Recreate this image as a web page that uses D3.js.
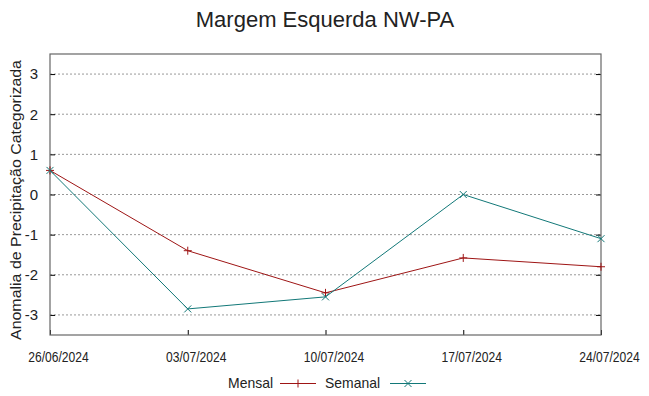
<!DOCTYPE html>
<html>
<head>
<meta charset="utf-8">
<script src="https://cdn.jsdelivr.net/npm/d3@7"></script>
<style>
  body { margin: 0; background: #fff; }
  text { font-family: "Liberation Sans", Arial, sans-serif; fill: #222; }
</style>
</head>
<body>
<script>
var width = 649,
  height = 396;

// data
var dates = ["26/06/2024", "03/07/2024", "10/07/2024", "17/07/2024", "24/07/2024"];
var mensal = [0.6, -1.4, -2.45, -1.58, -1.8];
var semanal = [0.6, -2.85, -2.55, 0.0, -1.1];
var yTicks = [-3, -2, -1, 0, 1, 2, 3];

var margin = {left: 50, right: 48, top: 54, bottom: 61};

var svg = d3.select("body").append("svg")
  .attr("width", width)
  .attr("height", height);

var x = d3.scalePoint()
  .domain(dates)
  .range([margin.left, width - margin.right]);

var y = d3.scaleLinear()
  .domain([-3.5, 3.5])
  .range([height - margin.bottom, margin.top]);

var red = "#9e1515",
  teal = "#127878";

// grid
svg.append("g")
  .selectAll("line")
  .data(yTicks)
  .enter()
    .append("line")
    .attr("x1", margin.left)
    .attr("x2", width - margin.right)
    .attr("y1", d => y(d))
    .attr("y2", d => y(d))
    .attr("stroke", "#999")
    .attr("stroke-width", 1)
    .attr("stroke-dasharray", "2,2");

// left axis
var yAxis = svg.append("g")
  .attr("transform", "translate(" + margin.left + ",0)")
  .call(d3.axisLeft(y).tickValues(yTicks).tickSize(-5).tickPadding(12).tickFormat(d => String(d)));
yAxis.select(".domain").remove();
yAxis.selectAll("text").attr("font-size", 15).attr("fill", "#222");

// right ticks
var yAxisR = svg.append("g")
  .attr("transform", "translate(" + (width - margin.right) + ",0)")
  .call(d3.axisRight(y).tickValues(yTicks).tickSize(-5).tickFormat(""));
yAxisR.select(".domain").remove();

// bottom axis
var xAxis = svg.append("g")
  .attr("transform", "translate(0," + (height - margin.bottom) + ")")
  .call(d3.axisBottom(x).tickSize(-5).tickPadding(17));
xAxis.select(".domain").remove();
xAxis.selectAll("text")
  .attr("font-size", 14)
  .attr("fill", "#222")
  .attr("dx", 8)
  .attr("textLength", 60.5)
  .attr("lengthAdjust", "spacingAndGlyphs");

// frame
svg.append("rect")
  .attr("x", margin.left)
  .attr("y", margin.top)
  .attr("width", width - margin.left - margin.right)
  .attr("height", height - margin.top - margin.bottom)
  .attr("fill", "none")
  .attr("stroke", "#666")
  .attr("stroke-width", 1.2);

var line = d3.line()
  .x((d, i) => x(dates[i]))
  .y(d => y(d));

function plus(g, cx, cy, color) {
  g.append("path")
    .attr("d", "M" + (cx - 4) + "," + cy + "H" + (cx + 4) + "M" + cx + "," + (cy - 4) + "V" + (cy + 4))
    .attr("stroke", color).attr("stroke-width", 1);
}
function cross(g, cx, cy, color) {
  g.append("path")
    .attr("d", "M" + (cx - 3.5) + "," + (cy - 3.5) + "L" + (cx + 3.5) + "," + (cy + 3.5) +
      "M" + (cx - 3.5) + "," + (cy + 3.5) + "L" + (cx + 3.5) + "," + (cy - 3.5))
    .attr("stroke", color).attr("stroke-width", 1);
}

var series = svg.append("g");
series.append("path")
  .datum(mensal)
  .attr("d", line)
  .attr("fill", "none")
  .attr("stroke", red)
  .attr("stroke-width", 1);
mensal.forEach((v, i) => plus(series, x(dates[i]), y(v), red));

series.append("path")
  .datum(semanal)
  .attr("d", line)
  .attr("fill", "none")
  .attr("stroke", teal)
  .attr("stroke-width", 1);
semanal.forEach((v, i) => cross(series, x(dates[i]), y(v), teal));

// title
svg.append("text")
  .attr("x", 325)
  .attr("y", 27)
  .attr("text-anchor", "middle")
  .attr("font-size", 22)
  .text("Margem Esquerda NW-PA");

// y label
svg.append("text")
  .attr("transform", "translate(21,200) rotate(-90)")
  .attr("text-anchor", "middle")
  .attr("font-size", 15)
  .attr("textLength", 280)
  .attr("lengthAdjust", "spacingAndGlyphs")
  .text("Anomalia de Precipitação Categorizada");

// legend
var legend = svg.append("g");
var legItems = [
  {name: "Mensal", color: red, mark: plus, tx: 273, w: 45, lx: 280},
  {name: "Semanal", color: teal, mark: cross, tx: 380, w: 55, lx: 390}
];
legItems.forEach(function(d) {
  legend.append("text")
    .attr("x", d.tx - d.w)
    .attr("y", 388)
    .attr("font-size", 15)
    .attr("textLength", d.w)
    .attr("lengthAdjust", "spacingAndGlyphs")
    .text(d.name);
  legend.append("line")
    .attr("x1", d.lx).attr("x2", d.lx + 36)
    .attr("y1", 383.5).attr("y2", 383.5)
    .attr("stroke", d.color).attr("stroke-width", 1);
  d.mark(legend, d.lx + 18, 383.5, d.color);
});
</script>
</body>
</html>
